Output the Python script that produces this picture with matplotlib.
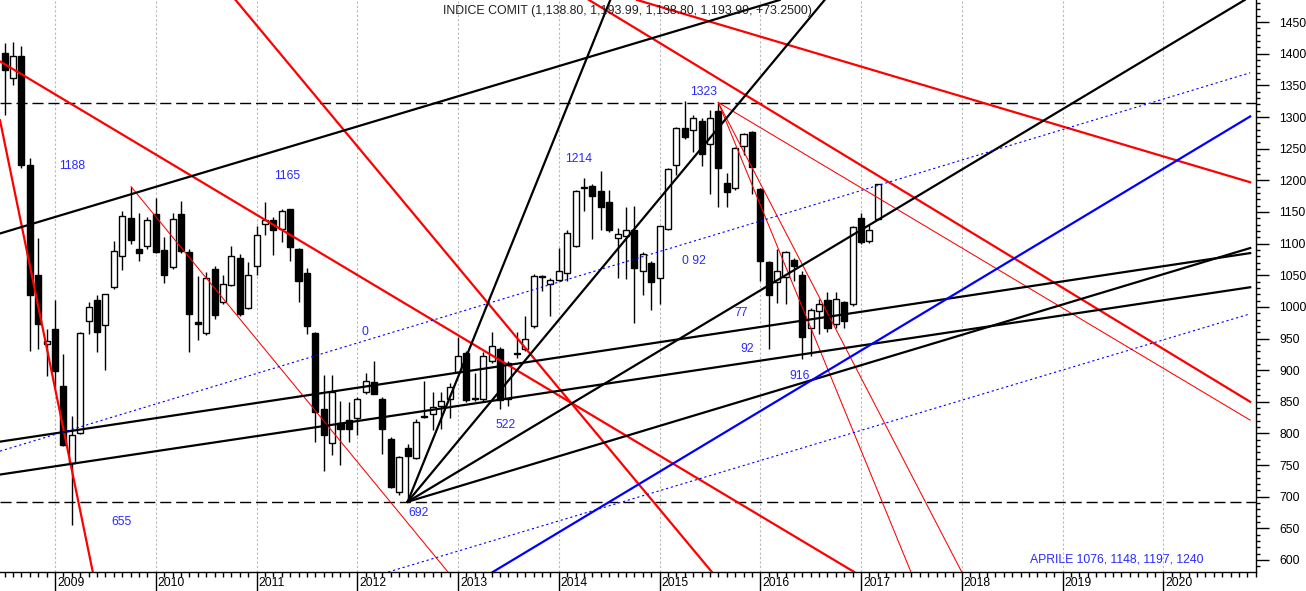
import numpy as np
import matplotlib
matplotlib.use("Agg")
import matplotlib.pyplot as plt
from matplotlib.ticker import MultipleLocator

plt.rcParams['font.family'] = ['Liberation Sans', 'DejaVu Sans']

# monthly candles, Jul 2008 .. Mar 2017
start_year, start_month = 2008, 7
opens = [1402, 1361, 1396, 1224, 1050, 941,
         965, 875, 753, 801, 977, 1011, 971, 1032, 1081, 1141, 1092, 1097,
         1147, 1090, 1063, 1147, 1087, 976, 958, 1060, 1007, 1035, 1077, 999,
         1064, 1131, 1138, 1123, 1155, 1092, 1053, 958, 839, 785, 817, 822,
         825, 866, 882, 855, 791, 707, 777, 761, 827, 831, 843, 855,
         897, 927, 856, 855, 914, 933, 855, 926, 933, 969, 1049, 1036,
         1043, 1054, 1097, 1188, 1191, 1183, 1165, 1109, 1112, 1122, 1056, 1070,
         1046, 1123, 1225, 1283, 1279, 1294, 1258, 1310, 1196, 1188, 1255, 1276,
         1186, 1071, 1040, 1047, 1074, 1050, 967, 993, 1011, 973, 1007, 1004,
         1140, 1104, 1138.80]
highs = [1417, 1418, 1412, 1235, 1109, 965,
         1011, 925, 827, 960, 1008, 1018, 1021, 1104, 1151, 1190, 1149, 1142,
         1172, 1110, 1148, 1167, 1092, 1049, 1055, 1065, 1051, 1096, 1084, 1071,
         1128, 1165, 1142, 1154, 1155, 1093, 1062, 960, 892, 892, 851, 849,
         857, 895, 915, 857, 795, 765, 783, 823, 883, 865, 865, 879,
         952, 930, 896, 928, 961, 936, 915, 961, 986, 1052, 1051, 1045,
         1093, 1121, 1185, 1204, 1194, 1214, 1184, 1125, 1158, 1159, 1086, 1072,
         1128, 1220, 1284, 1325, 1304, 1299, 1311, 1323, 1212, 1253, 1275, 1278,
         1188, 1073, 1092, 1089, 1077, 1056, 999, 1012, 1024, 1024, 1010, 1128,
         1148, 1131, 1193.99]
lows = [1304, 1351, 1220, 930, 933, 891,
        872, 780, 655, 799, 957, 928, 901, 1029, 1059, 1100, 1073, 1091,
        1085, 1038, 1060, 1085, 929, 948, 955, 981, 1004, 1033, 985, 997,
        1050, 1113, 1082, 1102, 1073, 1007, 957, 786, 740, 766, 750, 786,
        798, 863, 862, 768, 713, 703, 692, 759, 824, 806, 807, 824,
        895, 850, 851, 849, 911, 839, 843, 920, 930, 966, 1025, 986,
        1041, 1041, 1095, 1152, 1108, 1121, 1118, 1045, 1044, 975, 1019, 995,
        1004, 1121, 1208, 1265, 1245, 1223, 1179, 1158, 1158, 1185, 1240, 1179,
        1041, 933, 1006, 1004, 1041, 918, 923, 957, 961, 966, 967, 1002,
        1100, 1101, 1138.80]
closes = [1374, 1396, 1225, 1018, 973, 946,
          899, 782, 797, 958, 1000, 960, 1021, 1088, 1144, 1105, 1085, 1138,
          1087, 1051, 1139, 1088, 988, 973, 1046, 987, 1036, 1081, 988, 1051,
          1114, 1138, 1122, 1152, 1094, 1041, 969, 834, 797, 866, 807, 807,
          855, 883, 863, 807, 716, 762, 765, 818, 826, 841, 852, 874,
          922, 853, 854, 922, 938, 853, 912, 927, 950, 1049, 1047, 1043,
          1057, 1117, 1183, 1190, 1176, 1158, 1121, 1115, 1122, 1061, 1084, 1040,
          1128, 1218, 1282, 1269, 1299, 1242, 1299, 1220, 1182, 1251, 1273, 1221,
          1072, 1019, 1057, 1087, 1065, 952, 995, 1005, 966, 1013, 978, 1126,
          1103, 1121, 1193.99]

# trend lines: (x0, y0, x1, y1) with x in decimal years
red_thick = [(2008.454, 1388, 2016.932, 581),
             (2010.792, 1485, 2015.519, 581),
             (2014.778, 1485, 2020.862, 1197),
             (2014.300, 1485, 2020.862, 850),
             (2008.454, 1295, 2009.375, 581)]
red_thin = [(2009.755, 1190, 2012.900, 581),
            (2015.583, 1323, 2017.495, 581),
            (2015.583, 1323, 2017.999, 581),
            (2015.583, 1323, 2020.862, 821)]
black_lines = [(2008.454, 1116, 2016.191, 1485),
               (2012.5, 692, 2014.511, 1485),
               (2012.5, 692, 2016.638, 1485),
               (2012.5, 692, 2020.807, 1485),
               (2012.5, 692, 2020.862, 1093),
               (2008.454, 787, 2020.862, 1085),
               (2008.454, 735, 2020.862, 1031)]
blue_thick = [(2013.345, 581, 2020.862, 1301)]
blue_dotted = [(2008.454, 772, 2020.862, 1370),
               (2012.307, 581, 2020.862, 989)]
levels = [1323, 692]

notes = ["1188", "1165", "655", "692", "0", "1214", "1323", "0 92", "77", "92", "916", "522"]
note_x = [2009.172, 2011.302, 2009.656, 2012.611, 2012.077, 2014.192,
          2015.437, 2015.344, 2015.815, 2015.865, 2016.391, 2013.47]
note_y = [1223, 1207, 660, 674, 961, 1234, 1340, 1073, 990, 933, 891, 813]

years = list(range(2009, 2021))
title = "INDICE COMIT (1,138.80, 1,193.99, 1,138.80, 1,193.99, +73.2500)"
aprile = "APRILE 1076, 1148, 1197, 1240"

fig = plt.figure(figsize=(13.06, 5.91), dpi=100)
ax = fig.add_axes([0, 19 / 591, 1255.7 / 1306, 572 / 591])

n = len(opens)
x = np.array([start_year + (start_month - 1 + i) / 12 for i in range(n)])
o = np.array(opens, float)
h = np.array(highs, float)
l = np.array(lows, float)
c = np.array(closes, float)

# candles
ax.vlines(x, l, h, color="black", lw=1, zorder=2)
up = c >= o
body_lo = np.minimum(o, c)
body_h = np.maximum(np.abs(c - o), 1.5)
ax.bar(x[up], body_h[up], bottom=body_lo[up], width=0.06, color="white",
       edgecolor="black", lw=1, zorder=3)
ax.bar(x[~up], body_h[~up], bottom=body_lo[~up], width=0.06, color="black",
       edgecolor="black", lw=1, zorder=3)

for lv in levels:
    ax.axhline(lv, color="black", lw=1, dashes=(8, 3.5), zorder=4)

for yr in years:
    ax.axvline(yr, color="#b8b8b8", lw=0.8, dashes=(2, 2), zorder=1)

for x0, y0, x1, y1 in red_thin:
    ax.plot([x0, x1], [y0, y1], color="red", lw=0.75, zorder=5)
for x0, y0, x1, y1 in red_thick:
    ax.plot([x0, x1], [y0, y1], color="red", lw=1.6, zorder=5)
for x0, y0, x1, y1 in black_lines:
    ax.plot([x0, x1], [y0, y1], color="black", lw=1.6, zorder=5)
for x0, y0, x1, y1 in blue_thick:
    ax.plot([x0, x1], [y0, y1], color="blue", lw=1.6, zorder=5)
for x0, y0, x1, y1 in blue_dotted:
    ax.plot([x0, x1], [y0, y1], color="blue", lw=0.8, dashes=(2, 2.5), zorder=5)

for t, tx, ty in zip(notes, note_x, note_y):
    ax.text(tx, ty, t, color="#2a2aff", fontsize=8.8, ha="center", va="center", zorder=6)
ax.text(2019.537, 600, aprile, color="#2a2aff", fontsize=8.8, ha="center", va="center", zorder=6)
ax.text(0.5, 0.981, title, transform=ax.transAxes, color="#202020", fontsize=8.9,
        ha="center", va="center", zorder=6)

ax.set_xlim(2008.454, 2020.862)
ax.set_ylim(581, 1485)

# right price axis
ax.yaxis.tick_right()
ax.yaxis.set_major_locator(MultipleLocator(50))
ax.yaxis.set_minor_locator(MultipleLocator(10))
ax.set_yticks(np.arange(600, 1451, 50))
ax.tick_params(axis="y", which="major", length=9, width=1, pad=8, labelsize=8.8)
ax.tick_params(axis="y", which="minor", length=3, width=1)

# bottom date axis
ax.set_xticks(years)
ax.set_xticklabels([])
ax.set_xticks(x[0] + np.arange(0, 150) / 12, minor=True)
ax.tick_params(axis="x", which="major", length=14, width=1)
ax.tick_params(axis="x", which="minor", length=3.5, width=1)
for yr in years:
    ax.text(yr + 0.02, -0.0195, str(yr), transform=ax.get_xaxis_transform(),
            fontsize=8.8, ha="left", va="center")

for side in ["left", "top"]:
    ax.spines[side].set_visible(False)
for side in ["right", "bottom"]:
    ax.spines[side].set_linewidth(1)

fig.savefig("out.png", dpi=100)
